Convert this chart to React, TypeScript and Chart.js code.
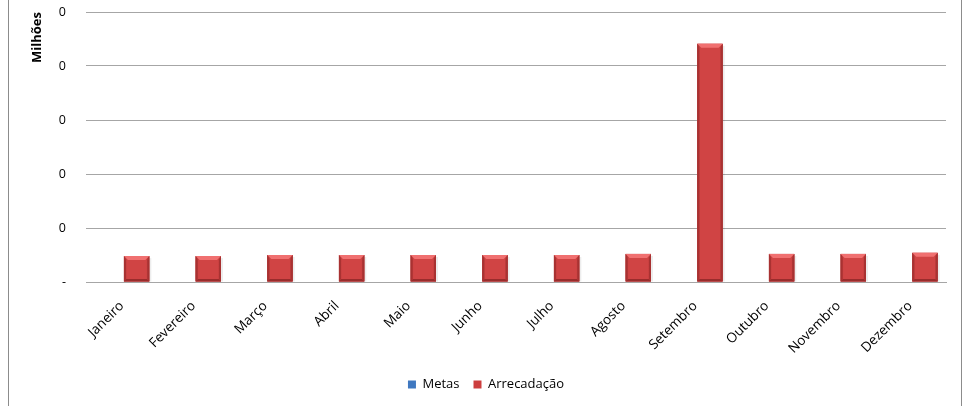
import React, { useEffect, useRef } from "react";
import { Chart, registerables } from "chart.js";

Chart.register(...registerables);

const months = ["Janeiro", "Fevereiro", "Março", "Abril", "Maio", "Junho", "Julho", "Agosto", "Setembro", "Outubro", "Novembro", "Dezembro"];
// values in millions
const metas = [0, 0, 0, 0, 0, 0, 0, 0, 0, 0, 0, 0];
const arrecadacao = [0.024, 0.024, 0.025, 0.025, 0.025, 0.025, 0.025, 0.026, 0.2205, 0.026, 0.026, 0.027];
const yMax = 0.25;
const yStep = 0.05;
const yTitle = "Milhões";

const FONT = "'Open Sans', 'DejaVu Sans', sans-serif";

const palettes: Record<string, { body: string; light: string; dark: string; edge: string }> = {
  red: { body: "#D04444", light: "#F07070", dark: "#9A2C2C", edge: "#A83232" },
  blue: { body: "#3F78C0", light: "#6FA0E0", dark: "#244E86", edge: "#2F5E9E" },
};

const bevelPlugin = {
  id: "bevel",
  afterDatasetsDraw(chart: any) {
    const ctx = chart.ctx as CanvasRenderingContext2D;
    chart.data.datasets.forEach((ds: any, di: number) => {
      const meta = chart.getDatasetMeta(di);
      if (meta.hidden) return;
      const p = palettes[ds.palette];
      meta.data.forEach((bar: any) => {
        const { x, y, base, width } = bar.getProps(["x", "y", "base", "width"], true);
        const h = base - y;
        if (h <= 0.5) return;
        const l = x - width / 2;
        const r = x + width / 2;
        const bv = Math.min(4, h / 4);
        ctx.save();
        ctx.fillStyle = "rgba(0,0,0,0.07)";
        ctx.fillRect(r, y + 2, 2, h - 2);
        const g = ctx.createLinearGradient(l, 0, r, 0);
        g.addColorStop(0, p.edge);
        g.addColorStop(0.12, p.body);
        g.addColorStop(0.88, p.body);
        g.addColorStop(1, p.edge);
        ctx.fillStyle = g;
        ctx.fillRect(l, y, width, h);
        ctx.fillStyle = p.light;
        ctx.beginPath();
        ctx.moveTo(l, y);
        ctx.lineTo(r, y);
        ctx.lineTo(r - bv, y + bv);
        ctx.lineTo(l + bv, y + bv);
        ctx.closePath();
        ctx.fill();
        ctx.fillStyle = p.edge;
        ctx.beginPath();
        ctx.moveTo(l, y);
        ctx.lineTo(l + bv * 0.5, y + bv);
        ctx.lineTo(l + bv * 0.5, base - bv * 0.6);
        ctx.lineTo(l, base);
        ctx.closePath();
        ctx.fill();
        ctx.beginPath();
        ctx.moveTo(r, y);
        ctx.lineTo(r - bv * 0.5, y + bv);
        ctx.lineTo(r - bv * 0.5, base - bv * 0.6);
        ctx.lineTo(r, base);
        ctx.closePath();
        ctx.fill();
        ctx.fillStyle = p.dark;
        ctx.beginPath();
        ctx.moveTo(l, base);
        ctx.lineTo(r, base);
        ctx.lineTo(r - bv * 0.6, base - bv * 0.6);
        ctx.lineTo(l + bv * 0.6, base - bv * 0.6);
        ctx.closePath();
        ctx.fill();
        ctx.restore();
      });
    });
  },
};

export default function App() {
  const ref = useRef<HTMLCanvasElement | null>(null);
  useEffect(() => {
    if (!ref.current) return;
    const chart = new Chart(ref.current, {
      type: "bar",
      data: {
        labels: months,
        datasets: [
          { label: "Metas", data: metas, backgroundColor: "#3F78C0", borderWidth: 0, palette: "blue" } as any,
          { label: "Arrecadação", data: arrecadacao, backgroundColor: "#CD3E3E", borderWidth: 0, palette: "red" } as any,
        ],
      },
      options: {
        animation: false,
        responsive: false,
        maintainAspectRatio: false,
        layout: { padding: { left: 26, right: 18, top: 12, bottom: 5 } },
        datasets: { bar: { categoryPercentage: 0.826, barPercentage: 0.858 } },
        plugins: {
          tooltip: { enabled: false },
          legend: {
            position: "bottom",
            labels: {
              boxWidth: 8,
              boxHeight: 8,
              padding: 14,
              color: "#000",
              font: { family: FONT, size: 13 },
            },
          },
        },
        scales: {
          x: {
            afterFit: (s: any) => {
              s.height = 82;
            },
            grid: { display: false },
            border: { display: true, color: "#A6A6A6" },
            ticks: {
              minRotation: 45,
              maxRotation: 45,
              color: "#000",
              padding: 8,
              font: { family: FONT, size: 13.5 },
            },
          },
          y: {
            min: 0,
            max: yMax,
            afterFit: (s: any) => {
              s.width = 60;
            },
            grid: { color: "#A6A6A6", drawTicks: true, tickLength: 20, tickColor: "rgba(0,0,0,0)" },
            border: { display: false },
            ticks: {
              stepSize: yStep,
              padding: 0,
              color: "#000",
              font: { family: FONT, size: 12.5 },
              callback: (v: any) => (Number(v) === 0 ? "-" : String(Math.round(Number(v)))),
            },
            title: {
              display: true,
              text: yTitle,
              align: "end",
              color: "#000",
              padding: { top: 3, bottom: 0 },
              font: { family: FONT, size: 13, weight: "bold" },
            },
          },
        },
      },
      plugins: [bevelPlugin],
    });
    return () => chart.destroy();
  }, []);

  return (
    <div style={{ position: "fixed", left: 0, top: 0, width: 964, height: 406, overflow: "hidden", background: "#fff" }}>
      <div
        style={{
          position: "absolute",
          left: 8,
          top: -20,
          width: 952,
          height: 460,
          borderLeft: "1.5px solid #8C8C8C",
          borderRight: "1.5px solid #8C8C8C",
        }}
      />
      <canvas ref={ref} width={964} height={406} style={{ position: "absolute", left: 0, top: 0, width: 964, height: 406 }} />
    </div>
  );
}
